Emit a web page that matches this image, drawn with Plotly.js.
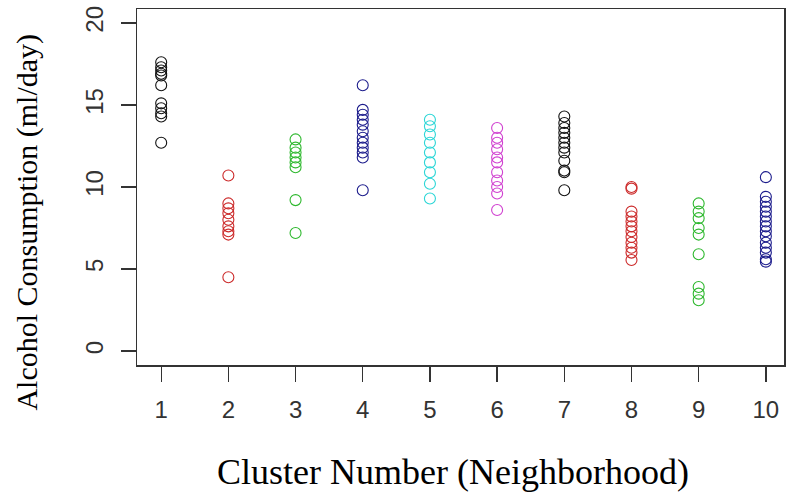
<!DOCTYPE html>
<html>
<head>
<meta charset="utf-8">
<script src="https://cdn.plot.ly/plotly-3.0.1.min.js"></script>
<style>html,body{margin:0;padding:0;background:#fff;}#chart{width:786px;height:497px;}</style>
</head>
<body>
<div id="chart"></div>
<script>
const clusters = [1, 2, 3, 4, 5, 6, 7, 8, 9, 10];
const xTickLabels = ["1", "2", "3", "4", "5", "6", "7", "8", "9", "10"];
const yTickValues = [0, 5, 10, 15, 20];
const clusterColors = ["#111111", "#cc2a2a", "#2eb82e", "#1c1c8c", "#2ad6d6", "#d040d0", "#111111", "#cc2a2a", "#2eb82e", "#1c1c8c"];

const c1 = [17.6, 17.3, 17.1, 16.9, 16.8, 16.2, 15.1, 14.8, 14.5, 14.3, 12.7];
const c2 = [10.7, 9.0, 8.7, 8.4, 8.0, 7.6, 7.3, 7.1, 4.5];
const c3 = [12.9, 12.4, 12.1, 11.8, 11.5, 11.2, 9.2, 7.2];
const c4 = [16.2, 14.7, 14.4, 14.1, 13.8, 13.4, 13.0, 12.7, 12.4, 12.1, 11.8, 9.8];
const c5 = [14.1, 13.7, 13.2, 12.7, 12.1, 11.5, 10.9, 10.2, 9.3];
const c6 = [13.6, 13.0, 12.7, 12.3, 11.8, 11.5, 10.9, 10.4, 10.0, 9.6, 8.6];
const c7 = [14.3, 13.9, 13.6, 13.3, 13.0, 12.7, 12.4, 12.1, 11.6, 10.9, 11.0, 9.8];
const c8 = [10.0, 9.9, 8.5, 8.2, 7.9, 7.6, 7.3, 6.95, 6.6, 6.3, 6.0, 5.55];
const c9 = [9.0, 8.5, 8.1, 7.5, 7.1, 5.9, 3.9, 3.5, 3.1];
const c10 = [10.6, 9.4, 9.1, 8.8, 8.5, 8.2, 7.9, 7.6, 7.3, 7.0, 6.6, 6.3, 6.0, 5.6, 5.45];

const clusterValues = [c1, c2, c3, c4, c5, c6, c7, c8, c9, c10];

const traces = clusters.map((c, i) => ({
  type: 'scatter',
  mode: 'markers',
  x: clusterValues[i].map(() => c),
  y: clusterValues[i],
  marker: {symbol: 'circle-open', size: 11, color: clusterColors[i], line: {width: 1.1, color: clusterColors[i]}},
  showlegend: false,
  hoverinfo: 'x+y'
}));

const tickFont = {family: 'Liberation Sans, Arial, sans-serif', size: 24, color: '#333'};
const xTitleFont = {family: 'Liberation Serif, Times New Roman, serif', size: 36, color: '#000'};
const yTitleFont = {family: 'Liberation Serif, Times New Roman, serif', size: 30, color: '#000'};

const layout = {
  width: 786, height: 497,
  margin: {l: 137, r: 2, t: 9, b: 132},
  paper_bgcolor: '#fff', plot_bgcolor: '#fff',
  xaxis: {
    range: [0.64, 10.27],
    tickvals: clusters, ticktext: xTickLabels,
    ticks: 'outside', ticklen: 15, tickwidth: 1.3, tickcolor: '#333',
    showline: true, linecolor: '#333', linewidth: 1.5, mirror: true,
    showgrid: false, zeroline: false,
    tickfont: tickFont, ticklabelstandoff: 8
  },
  yaxis: {
    range: [-0.85, 20.85],
    tickvals: yTickValues, ticktext: yTickValues.map(String),
    tickangle: -90,
    ticks: 'outside', ticklen: 15, tickwidth: 1.3, tickcolor: '#333',
    showline: true, linecolor: '#333', linewidth: 1.5, mirror: true,
    showgrid: false, zeroline: false,
    tickfont: tickFont, ticklabelstandoff: 8
  },
  annotations: [
    {text: 'Cluster Number (Neighborhood)', xref: 'paper', yref: 'paper', x: 0.488, y: -0.30,
     xanchor: 'center', yanchor: 'middle', showarrow: false, font: xTitleFont},
    {text: 'Alcohol Consumption (ml/day)', xref: 'paper', yref: 'paper', x: -0.17, y: 0.40,
     xanchor: 'center', yanchor: 'middle', textangle: -90, showarrow: false, font: yTitleFont}
  ]
};

Plotly.newPlot('chart', traces, layout, {displayModeBar: false, staticPlot: true});
</script>
</body>
</html>
